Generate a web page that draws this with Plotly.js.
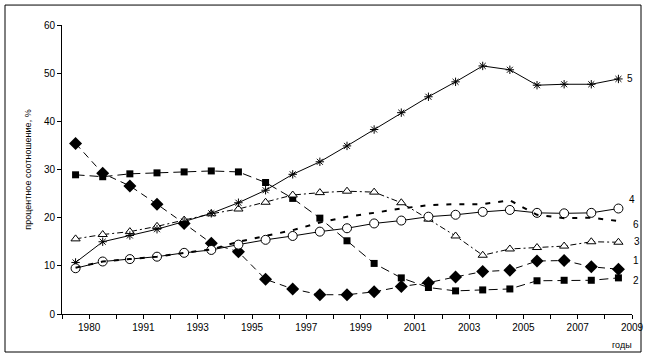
<!DOCTYPE html>
<html>
<head>
<meta charset="utf-8">
<script src="https://cdn.plot.ly/plotly-3.0.1.min.js"></script>
<style>html,body{margin:0;padding:0;background:#fff;}#chart{width:648px;height:360px;}</style>
</head>
<body>
<div id="chart"></div>
<script>
// Tick labels (placed on every second category boundary)
const tickLabels = ['1980','1991','1993','1995','1997','1999','2001','2003','2005','2007','2009'];
// Series values (21 observations each)
const series1 = [35.4,29.2,26.6,22.8,18.8,14.7,12.9,7.2,5.2,4.0,4.0,4.6,5.7,6.5,7.7,8.8,9.1,11.0,11.1,9.8,9.3];
const series2 = [28.9,28.5,29.1,29.3,29.5,29.7,29.5,27.3,24.0,19.9,15.2,10.5,7.5,5.5,4.8,5.0,5.2,6.9,7.0,7.0,7.5];
const series3 = [15.6,16.5,17.1,18.2,19.5,20.8,21.8,23.2,24.7,25.2,25.5,25.3,23.1,19.7,16.2,12.2,13.5,13.8,14.1,15.0,14.9];
const series4 = [9.5,10.9,11.4,11.9,12.7,13.3,14.4,15.4,16.2,17.1,17.8,18.8,19.4,20.2,20.6,21.2,21.6,21.0,20.9,21.0,21.9];
const series5 = [10.7,15.0,16.3,17.6,19.2,20.9,23.1,25.7,29.0,31.6,34.9,38.3,41.8,45.1,48.2,51.5,50.7,47.5,47.7,47.7,48.8];
const series6 = [9.6,10.9,11.4,11.9,12.7,13.4,15.0,16.2,17.4,19.0,20.2,21.0,21.9,22.6,22.8,22.8,23.6,20.6,19.9,20.0,19.3];
const seriesNames = ['1','2','3','4','5','6'];

const idx = series1.map((_, i) => i);
const n = idx.length;

const font = {family: 'Arial, "Liberation Sans", sans-serif', size: 10, color: '#000'};

const traces = [
  {y: series2, mode: 'lines+markers', name: seriesNames[1],
   line: {color: '#000', width: 1, dash: '9px,5px'},
   marker: {symbol: 'square', size: 7, color: '#000'}},
  {y: series1, mode: 'lines+markers', name: seriesNames[0],
   line: {color: '#000', width: 1, dash: '7px,5px'},
   marker: {symbol: 'diamond', size: 10, color: '#000'}},
  {y: series3, mode: 'lines+markers', name: seriesNames[2],
   line: {color: '#000', width: 1, dash: '6px,3px,2px,3px'},
   marker: {symbol: 'triangle-up', size: 8, color: '#fff', line: {color: '#000', width: 1}}},
  {y: series5, mode: 'lines+markers', name: seriesNames[4],
   line: {color: '#000', width: 1},
   marker: {symbol: 'asterisk-open', size: 7, color: '#000', line: {color: '#000', width: 1}}},
  {y: series4, mode: 'lines+markers', name: seriesNames[3],
   line: {color: '#000', width: 1},
   marker: {symbol: 'circle', size: 9, color: '#fff', line: {color: '#000', width: 1}}},
  {y: series6, mode: 'lines', name: seriesNames[5],
   line: {color: '#000', width: 2, dash: '5px,8px'}}
].map(t => Object.assign(t, {x: idx, type: 'scatter', hoverinfo: 'skip'}));

// tick marks on each category boundary, labels on every second one
const tickvals = [], ticktext = [];
for (let k = 0; k <= n; k++) {
  tickvals.push(k - 0.5);
  ticktext.push(k % 2 === 1 ? tickLabels[(k - 1) / 2] : '');
}

// end-of-line labels
const endOffsets = {'1': [13, 9], '2': [13, -3], '3': [14, 1], '4': [9, 9], '5': [7, 0], '6': [13, -3]};
const lastVals = {'1': series1, '2': series2, '3': series3, '4': series4, '5': series5, '6': series6};
const annotations = seriesNames.map(s => ({
  x: n - 1, y: lastVals[s][n - 1], xref: 'x', yref: 'y', text: s, showarrow: false,
  xanchor: 'left', yanchor: 'middle', xshift: endOffsets[s][0], yshift: endOffsets[s][1], font: font
}));
annotations.push({x: 1, y: 0, xref: 'paper', yref: 'paper', text: 'годы', showarrow: false,
  xanchor: 'right', yanchor: 'top', xshift: 2, yshift: -24, font: {family: font.family, size: 9, color: '#000'}});

const layout = {
  width: 648, height: 360,
  margin: {l: 62, r: 16, t: 25, b: 46},
  paper_bgcolor: '#fff', plot_bgcolor: '#fff',
  showlegend: false,
  font: font,
  xaxis: {
    range: [-0.5, n - 0.5], tickmode: 'array', tickvals: tickvals, ticktext: ticktext,
    ticks: 'outside', ticklen: 4, tickcolor: '#000', tickwidth: 1,
    showline: true, linecolor: '#000', linewidth: 1, showgrid: false, zeroline: false,
    tickfont: font
  },
  yaxis: {
    range: [0, 60], dtick: 10, ticks: 'outside', ticklen: 4, tickcolor: '#000', tickwidth: 1,
    showline: true, linecolor: '#000', linewidth: 1, showgrid: false, zeroline: false,
    tickfont: font,
    title: {text: 'процентное соотношение, %', font: {family: font.family, size: 9, color: '#000'}, standoff: 10}
  },
  annotations: annotations,
  shapes: [{type: 'rect', xref: 'paper', yref: 'paper',
    x0: -0.1, x1: 1.0158, y0: -0.1315, y1: 1.069, line: {color: '#000', width: 1}}]
};

Plotly.newPlot('chart', traces, layout, {staticPlot: true, displayModeBar: false});
</script>
</body>
</html>
